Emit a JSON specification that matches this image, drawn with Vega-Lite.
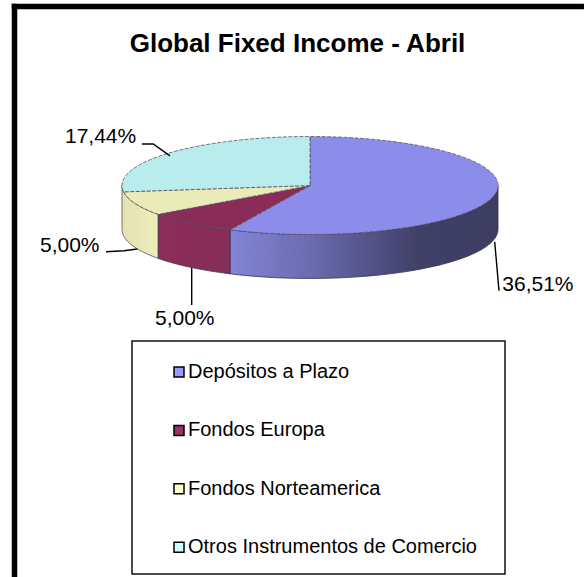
{"$schema":"https://vega.github.io/schema/vega-lite/v6.json","width":584,"height":577,"autosize":"none","padding":0,"background":"white","config":{"view":{"stroke":null},"font":"Liberation Sans"},
"title":{"text":"Global Fixed Income - Abril","font":"Liberation Sans","fontSize":26,"fontWeight":"bold","color":"black","anchor":"middle","frame":"group","baseline":"alphabetic","offset":-51,"dx":5.5,"dy":27},
"data":{"values":[{"slice":"Depósitos a Plazo","value":36.51,"label":"36,51%"},{"slice":"Fondos Europa","value":5,"label":"5,00%"},{"slice":"Fondos Norteamerica","value":5,"label":"5,00%"},{"slice":"Otros Instrumentos de Comercio","value":17.44,"label":"17,44%"}]},
"resolve":{"scale":{"fill":"independent"}},
"layer":[
{"data":{"values":[{"edge":"left"}]},"mark":{"type":"rule","stroke":"black","strokeWidth":5.5},"encoding":{"x":{"datum":-1.5718,"type":"quantitative","scale":{"domain":[-1,1],"range":[122,498],"nice":false,"zero":false},"axis":null},"y":{"datum":-0.967,"type":"quantitative","scale":{"domain":[-1,1],"range":[-2.5,373.5],"nice":false,"zero":false},"axis":null},"y2":{"datum":2.0824}}},
{"data":{"values":[{"edge":"top"}]},"mark":{"type":"rule","stroke":"black","strokeWidth":5.5},"encoding":{"x":{"datum":-1.5864,"type":"quantitative"},"x2":{"datum":1.4574},"y":{"datum":-0.9521,"type":"quantitative"}}},
{"transform":[{"filter":"datum.slice==='Depósitos a Plazo'"}],"mark":{"type":"point","filled":true,"size":141376,"opacity":1,"stroke":"#333344","strokeWidth":0.8,"shape":"M1 0A1 .2606 0 0 1 -.4255 .2358L-.4255 .4698A1 .2606 0 0 0 1 .234Z","fill":{"gradient":"linear","x1":0,"x2":1,"y1":0,"y2":0,"stops":[{"offset":0,"color":"#8484da"},{"offset":0.3,"color":"#6b6bae"},{"offset":0.7,"color":"#404068"},{"offset":1,"color":"#3d3d62"}]}},"encoding":{"x":{"datum":0,"type":"quantitative"},"y":{"datum":0,"type":"quantitative"}}},
{"transform":[{"filter":"datum.slice==='Fondos Europa'"}],"mark":{"type":"point","filled":true,"size":141376,"opacity":1,"stroke":"#333344","strokeWidth":0.8,"shape":"M-.4255 .2358A1 .2606 0 0 1 -.8085 .1534L-.8085 .3874A1 .2606 0 0 0 -.4255 .4698Z","fill":{"gradient":"linear","x1":0,"x2":1,"y1":0,"y2":0,"stops":[{"offset":0,"color":"#8e2c5a"},{"offset":1,"color":"#842e58"}]}},"encoding":{"x":{"datum":0,"type":"quantitative"},"y":{"datum":0,"type":"quantitative"}}},
{"transform":[{"filter":"datum.slice==='Fondos Norteamerica'"}],"mark":{"type":"point","filled":true,"size":141376,"opacity":1,"stroke":"#555555","strokeWidth":0.8,"shape":"M-.8085 .1534A1 .2606 0 0 1 -1 0L-1 .234A1 .2606 0 0 0 -.8085 .3874Z","fill":{"gradient":"linear","x1":0,"x2":1,"y1":0,"y2":0,"stops":[{"offset":0,"color":"#e2e2b2"},{"offset":1,"color":"#eeeebb"}]}},"encoding":{"x":{"datum":0,"type":"quantitative"},"y":{"datum":0,"type":"quantitative"}}},
{"mark":{"type":"point","filled":true,"size":141376,"opacity":1,"stroke":"#555566","strokeWidth":0.8,"strokeDash":[4,1.5]},"encoding":{"x":{"datum":0,"type":"quantitative"},"y":{"datum":0,"type":"quantitative"},
"shape":{"field":"slice","type":"nominal","legend":null,"scale":{"domain":["Depósitos a Plazo","Fondos Europa","Fondos Norteamerica","Otros Instrumentos de Comercio"],"range":["M0 0L0 -.2606A1 .2606 0 1 1 -.4255 .2358Z","M0 0L-.4255 .2358A1 .2606 0 0 1 -.8085 .1534Z","M0 0L-.8085 .1534A1 .2606 0 0 1 -.9915 .0339Z","M0 0L-.9915 .0339A1 .2606 0 0 1 0 -.2606Z"]}},
"fill":{"field":"slice","type":"nominal","legend":null,"scale":{"domain":["Depósitos a Plazo","Fondos Europa","Fondos Norteamerica","Otros Instrumentos de Comercio"],"range":["#8c8ceb","#8b2c58","#ebebb9","#b9eded"]}}}},
{"transform":[{"filter":"datum.slice==='Depósitos a Plazo'"}],"mark":{"type":"point","filled":false,"size":141376,"opacity":1,"stroke":"black","strokeWidth":1.4,"shape":"M.9824 .2989L1.0053 .5596"},"encoding":{"x":{"datum":0,"type":"quantitative"},"y":{"datum":0,"type":"quantitative"}}},
{"transform":[{"filter":"datum.slice==='Otros Instrumentos de Comercio'"}],"mark":{"type":"point","filled":false,"size":141376,"opacity":1,"stroke":"black","strokeWidth":1.4,"shape":"M-.8936 -.2207L-.834 -.2207L-.7447 -.1574"},"encoding":{"x":{"datum":0,"type":"quantitative"},"y":{"datum":0,"type":"quantitative"}}},
{"transform":[{"filter":"datum.slice==='Fondos Europa'"}],"mark":{"type":"point","filled":false,"size":141376,"opacity":1,"stroke":"black","strokeWidth":1.4,"shape":"M-.6292 .4388L-.6292 .6356"},"encoding":{"x":{"datum":0,"type":"quantitative"},"y":{"datum":0,"type":"quantitative"}}},
{"transform":[{"filter":"datum.slice==='Fondos Norteamerica'"}],"mark":{"type":"point","filled":false,"size":141376,"opacity":1,"stroke":"black","strokeWidth":1.4,"shape":"M-1.0851 .3521L-.9894 .3468L-.9186 .3378"},"encoding":{"x":{"datum":0,"type":"quantitative"},"y":{"datum":0,"type":"quantitative"}}},
{"transform":[{"filter":"datum.slice==='Depósitos a Plazo'"}],"mark":{"type":"text","align":"left","baseline":"alphabetic","fontSize":21,"font":"Liberation Sans","color":"black"},"encoding":{"x":{"datum":1.0229,"type":"quantitative"},"y":{"datum":0.5612,"type":"quantitative"},"text":{"field":"label"}}},
{"transform":[{"filter":"datum.slice==='Fondos Europa'"}],"mark":{"type":"text","align":"left","baseline":"alphabetic","fontSize":21,"font":"Liberation Sans","color":"black"},"encoding":{"x":{"datum":-0.8245,"type":"quantitative"},"y":{"datum":0.742,"type":"quantitative"},"text":{"field":"label"}}},
{"transform":[{"filter":"datum.slice==='Fondos Norteamerica'"}],"mark":{"type":"text","align":"left","baseline":"alphabetic","fontSize":21,"font":"Liberation Sans","color":"black"},"encoding":{"x":{"datum":-1.4362,"type":"quantitative"},"y":{"datum":0.3537,"type":"quantitative"},"text":{"field":"label"}}},
{"transform":[{"filter":"datum.slice==='Otros Instrumentos de Comercio'"}],"mark":{"type":"text","align":"left","baseline":"alphabetic","fontSize":21,"font":"Liberation Sans","color":"black"},"encoding":{"x":{"datum":-1.3032,"type":"quantitative"},"y":{"datum":-0.2261,"type":"quantitative"},"text":{"field":"label"}}},
{"data":{"values":[{"part":"legend box"}]},"mark":{"type":"point","filled":false,"size":141376,"opacity":1,"stroke":"#111111","strokeWidth":1.5,"shape":"M-.9468 .8271L1.0372 .8271L1.0372 2.0665L-.9468 2.0665Z"},"encoding":{"x":{"datum":0,"type":"quantitative"},"y":{"datum":0,"type":"quantitative"}}},
{"mark":{"type":"point","filled":true,"size":0,"opacity":1},"encoding":{"x":{"datum":0,"type":"quantitative"},"y":{"datum":0,"type":"quantitative"},"fill":{"field":"slice","type":"nominal","scale":{"domain":["Depósitos a Plazo","Fondos Europa","Fondos Norteamerica","Otros Instrumentos de Comercio"],"range":["#9999ff","#993366","#ffffcc","#ccffff"]},"legend":{"title":null,"orient":"none","legendX":169,"legendY":362,"padding":0,"symbolType":"square","symbolSize":100,"symbolStrokeColor":"black","symbolStrokeWidth":1.5,"symbolOpacity":1,"labelFont":"Liberation Sans","labelFontSize":20,"labelColor":"black","labelOffset":-1,"labelLimit":400,"rowPadding":38.4}}}}
]}
